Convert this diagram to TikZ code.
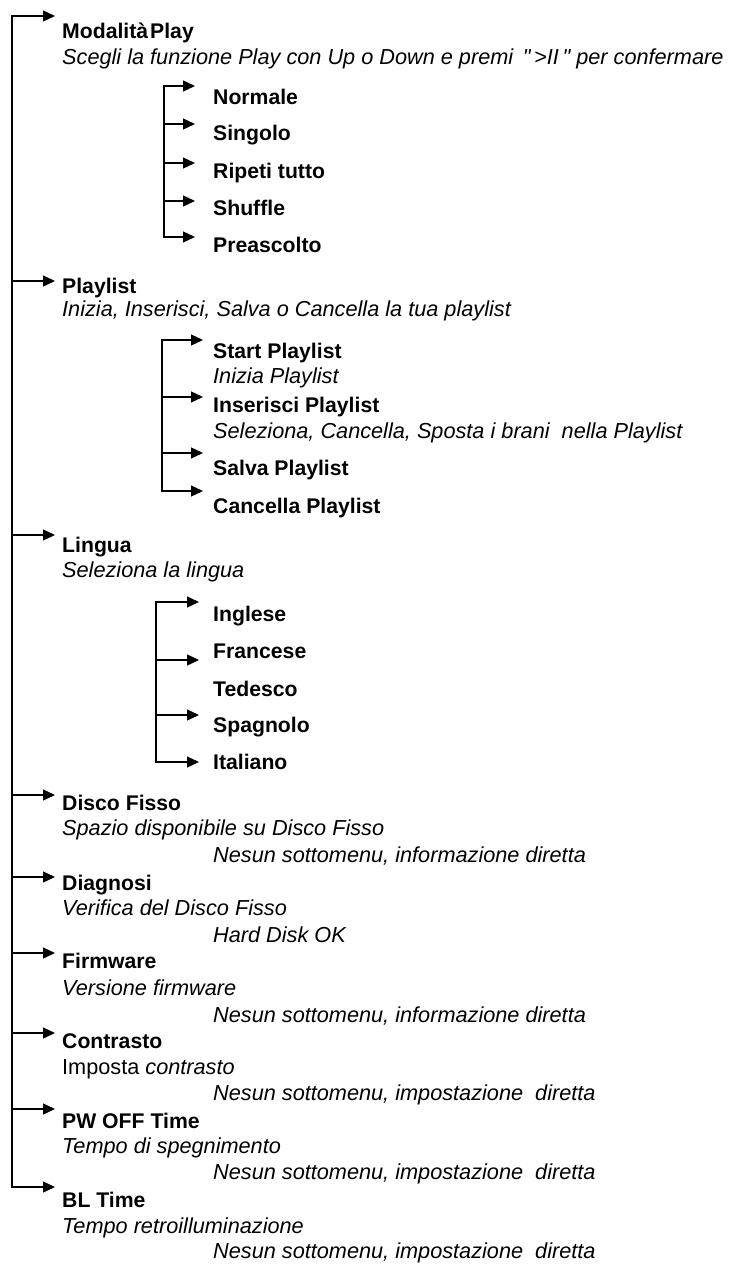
\documentclass[tikz,border=0pt]{standalone}
\usepackage{fontspec}
\setmainfont{Liberation Sans}
\usetikzlibrary{arrows.meta}
\begin{document}
\begin{tikzpicture}[x=1pt,y=-1pt,
	titolo/.style={anchor=base west,inner sep=0pt,font=\fontsize{21.2}{25}\selectfont\bfseries},
	descr/.style={anchor=base west,inner sep=0pt,font=\fontsize{21.7}{25}\selectfont\itshape},
	freccia/.style={line width=1.3pt,-{Triangle[length=12pt,width=11pt]}},
	doppia/.style={line width=1.3pt,{Triangle[length=12pt,width=11pt]}-{Triangle[length=12pt,width=11pt]}}]
		\useasboundingbox (0,0) rectangle (732,1271);
		%menu principale
		\node[titolo] (play) at (62,39) {Modalità\hspace{2pt}Play};
		\node[descr] (playd) at (62,65) {Scegli la funzione Play con Up o Down e premi\ \,\textquotedbl\,>II\,\textquotedbl\ per confermare};
		\node[titolo] (plist) at (62,293) {Playlist};
		\node[descr] (plistd) at (62,316) {Inizia, Inserisci, Salva o Cancella la tua playlist};
		\node[titolo] (lingua) at (62,552) {Lingua};
		\node[descr] (linguad) at (62,577) {Seleziona la lingua};
		\node[titolo] (disco) at (62,810) {Disco Fisso};
		\node[descr] (discod) at (62,835) {Spazio disponibile su Disco Fisso};
		\node[descr] (discon) at (213,862) {Nesun sottomenu, informazione diretta};
		\node[titolo] (diagn) at (62,890) {Diagnosi};
		\node[descr] (diagnd) at (62,915) {Verifica del Disco Fisso};
		\node[descr] (diagnn) at (213,942) {Hard Disk OK};
		\node[titolo] (firm) at (62,968) {Firmware};
		\node[descr] (firmd) at (62,995) {Versione firmware};
		\node[descr] (firmn) at (213,1022) {Nesun sottomenu, informazione diretta};
		\node[titolo] (contr) at (62,1048) {Contrasto};
		\node[descr] (contrd) at (62,1074) {\upshape Imposta \itshape contrasto};
		\node[descr] (contrn) at (213,1100) {Nesun sottomenu, impostazione\ \ diretta};
		\node[titolo] (pwoff) at (62,1128) {PW OFF Time};
		\node[descr] (pwoffd) at (62,1153) {Tempo di spegnimento};
		\node[descr] (pwoffn) at (213,1179) {Nesun sottomenu, impostazione\ \ diretta};
		\node[titolo] (bl) at (62,1207) {BL Time};
		\node[descr] (bld) at (62,1233) {Tempo retroilluminazione};
		\node[descr] (bln) at (213,1258) {Nesun sottomenu, impostazione\ \ diretta};
		%sottomenu play
		\node[titolo] (norm) at (213,105) {Normale};
		\node[titolo] (sing) at (213,141) {Singolo};
		\node[titolo] (rip) at (213,178) {Ripeti tutto};
		\node[titolo] (shuf) at (213,215) {Shuffle};
		\node[titolo] (pre) at (213,252) {Preascolto};
		%sottomenu playlist
		\node[titolo] (start) at (213,358) {Start Playlist};
		\node[descr] (startd) at (213,383) {Inizia Playlist};
		\node[titolo] (ins) at (213,412) {Inserisci Playlist};
		\node[descr] (insd) at (213,438) {Seleziona, Cancella, Sposta i brani\ \ nella Playlist};
		\node[titolo] (salva) at (213,475) {Salva Playlist};
		\node[titolo] (canc) at (213,513) {Cancella Playlist};
		%sottomenu lingua
		\node[titolo] (ingl) at (213,621) {Inglese};
		\node[titolo] (fran) at (213,658) {Francese};
		\node[titolo] (ted) at (213,696) {Tedesco};
		\node[titolo] (spa) at (213,732) {Spagnolo};
		\node[titolo] (ita) at (213,769) {Italiano};
		%linea principale
		\coordinate (s1) at (12,16);
		\coordinate (s2) at (12,281);
		\coordinate (s3) at (12,535);
		\coordinate (s4) at (12,795);
		\coordinate (s5) at (12,877);
		\coordinate (s6) at (12,953);
		\coordinate (s7) at (12,1033);
		\coordinate (s8) at (12,1109);
		\coordinate (s9) at (12,1187);
		\coordinate (t1) at (55,16);
		\coordinate (t2) at (55,281);
		\coordinate (t3) at (55,535);
		\coordinate (t4) at (55,795);
		\coordinate (t5) at (55,877);
		\coordinate (t6) at (55,953);
		\coordinate (t7) at (55,1033);
		\coordinate (t8) at (55,1109);
		\coordinate (t9) at (55,1187);
		\draw[doppia] (t1)--(s1)--(s9)--(t9);
		\draw[freccia] (s2)--(t2);
		\draw[freccia] (s3)--(t3);
		\draw[freccia] (s4)--(t4);
		\draw[freccia] (s5)--(t5);
		\draw[freccia] (s6)--(t6);
		\draw[freccia] (s7)--(t7);
		\draw[freccia] (s8)--(t8);
		%rami play
		\coordinate (a1) at (164,86);
		\coordinate (a2) at (164,124);
		\coordinate (a3) at (164,163);
		\coordinate (a4) at (164,201);
		\coordinate (a5) at (164,237);
		\coordinate (ta1) at (195,86);
		\coordinate (ta2) at (195,124);
		\coordinate (ta3) at (195,163);
		\coordinate (ta4) at (195,201);
		\coordinate (ta5) at (195,237);
		\draw[doppia] (ta1)--(a1)--(a5)--(ta5);
		\draw[freccia] (a2)--(ta2);
		\draw[freccia] (a3)--(ta3);
		\draw[freccia] (a4)--(ta4);
		%rami playlist
		\coordinate (b1) at (162,340);
		\coordinate (b2) at (162,397);
		\coordinate (b3) at (162,453);
		\coordinate (b4) at (162,491);
		\coordinate (tb1) at (203,340);
		\coordinate (tb2) at (203,397);
		\coordinate (tb3) at (203,453);
		\coordinate (tb4) at (203,491);
		\draw[doppia] (tb1)--(b1)--(b4)--(tb4);
		\draw[freccia] (b2)--(tb2);
		\draw[freccia] (b3)--(tb3);
		%rami lingua
		\coordinate (c1) at (156,602);
		\coordinate (c2) at (156,660);
		\coordinate (c3) at (156,715);
		\coordinate (c4) at (156,762);
		\coordinate (tc1) at (199,602);
		\coordinate (tc2) at (199,660);
		\coordinate (tc3) at (199,715);
		\coordinate (tc4) at (199,762);
		\draw[doppia] (tc1)--(c1)--(c4)--(tc4);
		\draw[freccia] (c2)--(tc2);
		\draw[freccia] (c3)--(tc3);
	\end{tikzpicture}
\end{document}
